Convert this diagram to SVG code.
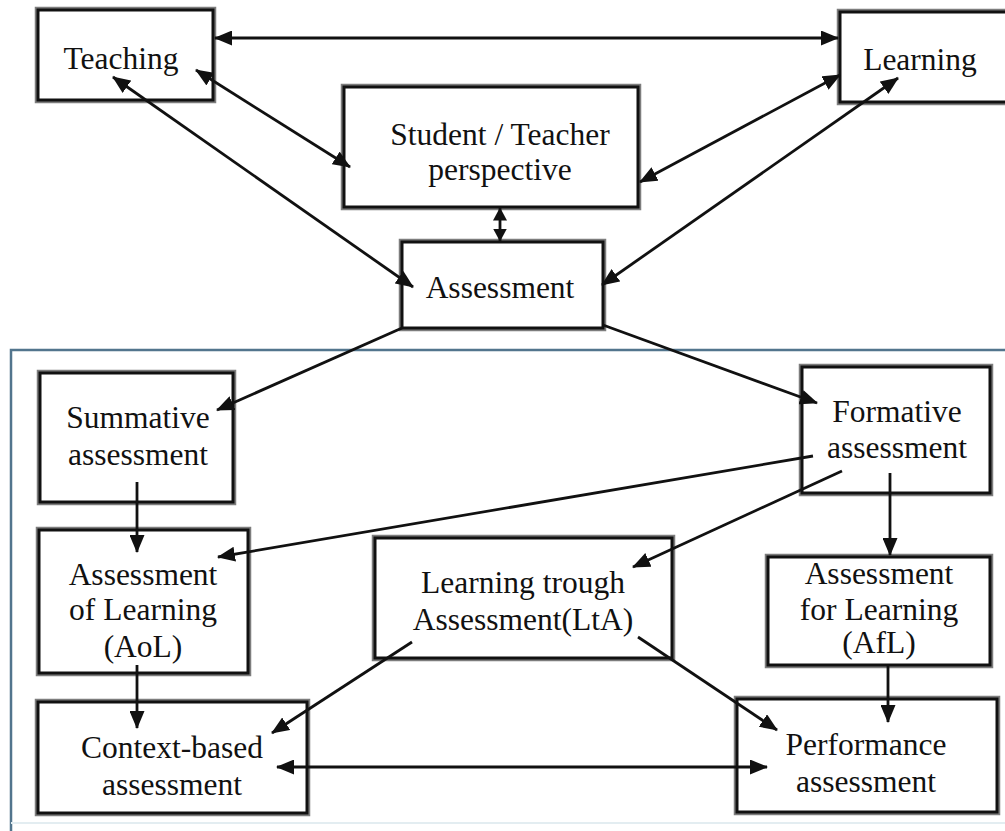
<svg xmlns="http://www.w3.org/2000/svg" width="1005" height="831" viewBox="0 0 1005 831">
  <style>
    .halo { fill: none; stroke: #7d7d7d; stroke-width: 6.5; }
    .box { fill: #ffffff; stroke: #111111; stroke-width: 3; }
    .lbl { font-size: 31.5px; fill: #111111; text-anchor: middle; }
    .edge { stroke: #111111; stroke-width: 2.8; fill: none; marker-end: url(#head); }
    .both { marker-start: url(#head); }
    .short { marker-start: url(#headS); marker-end: url(#headS); }
    .frame { fill: none; stroke: #52758d; stroke-width: 2.5; }
  </style>
  <defs>
    <marker id="head" viewBox="0 0 18 15" refX="17" refY="7.5" markerWidth="18" markerHeight="15" markerUnits="userSpaceOnUse" orient="auto-start-reverse">
      <path d="M0,0 L18,7.5 L0,15 z" fill="#111111"/>
    </marker>
    <marker id="headS" viewBox="0 0 13 14" refX="12.5" refY="7" markerWidth="13" markerHeight="14" markerUnits="userSpaceOnUse" orient="auto-start-reverse">
      <path d="M0,0 L13,7 L0,14 z" fill="#111111"/>
    </marker>
  </defs>

  <rect width="1005" height="831" fill="#ffffff"/>

  <!-- frame around the assessment types -->
  <polyline class="frame" points="11,831 11,350 1005,350"/>
  <line x1="11" y1="823" x2="1005" y2="823" stroke="#e3edf1" stroke-width="2"/>

  <!-- nodes -->
  <g font-family="Liberation Serif, Times New Roman, serif">
  <g id="teaching">
    <rect class="halo" x="38" y="10" width="175" height="90"/>
    <rect class="box" x="38" y="10" width="175" height="90"/>
    <text class="lbl" x="121" y="69">Teaching</text>
  </g>
  <g id="learning">
    <rect class="halo" x="840" y="12" width="175" height="90"/>
    <rect class="box" x="840" y="12" width="175" height="90"/>
    <text class="lbl" x="920" y="70">Learning</text>
  </g>
  <g id="perspective">
    <rect class="halo" x="344" y="87" width="294" height="120"/>
    <rect class="box" x="344" y="87" width="294" height="120"/>
    <text class="lbl" x="500" y="145">Student / Teacher</text>
    <text class="lbl" x="500" y="180">perspective</text>
  </g>
  <g id="assessment">
    <rect class="halo" x="402" y="242" width="201" height="86"/>
    <rect class="box" x="402" y="242" width="201" height="86"/>
    <text class="lbl" x="500" y="298">Assessment</text>
  </g>
  <g id="summative">
    <rect class="halo" x="40" y="373" width="193" height="129"/>
    <rect class="box" x="40" y="373" width="193" height="129"/>
    <text class="lbl" x="138" y="428">Summative</text>
    <text class="lbl" x="138" y="465">assessment</text>
  </g>
  <g id="formative">
    <rect class="halo" x="802" y="367" width="188" height="126"/>
    <rect class="box" x="802" y="367" width="188" height="126"/>
    <text class="lbl" x="897" y="422">Formative</text>
    <text class="lbl" x="897" y="458">assessment</text>
  </g>
  <g id="aol">
    <rect class="halo" x="39" y="530" width="209" height="143"/>
    <rect class="box" x="39" y="530" width="209" height="143"/>
    <text class="lbl" x="143" y="585">Assessment</text>
    <text class="lbl" x="143" y="620">of Learning</text>
    <text class="lbl" x="143" y="657">(AoL)</text>
  </g>
  <g id="lta">
    <rect class="halo" x="375" y="538" width="297" height="120"/>
    <rect class="box" x="375" y="538" width="297" height="120"/>
    <text class="lbl" x="523" y="593">Learning trough</text>
    <text class="lbl" x="523" y="630">Assessment(LtA)</text>
  </g>
  <g id="afl">
    <rect class="halo" x="768" y="557" width="222" height="108"/>
    <rect class="box" x="768" y="557" width="222" height="108"/>
    <text class="lbl" x="879" y="584">Assessment</text>
    <text class="lbl" x="879" y="620">for Learning</text>
    <text class="lbl" x="879" y="653">(AfL)</text>
  </g>
  <g id="context">
    <rect class="halo" x="38" y="702" width="269" height="111"/>
    <rect class="box" x="38" y="702" width="269" height="111"/>
    <text class="lbl" x="172" y="758">Context-based</text>
    <text class="lbl" x="172" y="795">assessment</text>
  </g>
  <g id="performance">
    <rect class="halo" x="737" y="699" width="260" height="113"/>
    <rect class="box" x="737" y="699" width="260" height="113"/>
    <text class="lbl" x="866" y="755">Performance</text>
    <text class="lbl" x="866" y="792">assessment</text>
  </g>
  </g>

  <!-- connectors -->
  <g id="connectors">
    <line class="edge both" x1="215" y1="38" x2="838" y2="38"/>
    <line class="edge both" x1="196" y1="70" x2="350" y2="167"/>
    <line class="edge both" x1="113" y1="77" x2="413" y2="287"/>
    <line class="edge both" x1="840" y1="75" x2="640" y2="182"/>
    <line class="edge both" x1="898" y1="78" x2="602" y2="285"/>
    <line class="edge short" x1="500" y1="208" x2="500" y2="241"/>
    <line class="edge" x1="402" y1="328" x2="217" y2="410"/>
    <line class="edge" x1="603" y1="325" x2="817" y2="403"/>
    <line class="edge" x1="137" y1="482" x2="137" y2="552"/>
    <line class="edge" x1="813" y1="456" x2="218" y2="557"/>
    <line class="edge" x1="842" y1="471" x2="633" y2="567"/>
    <line class="edge" x1="890" y1="473" x2="890" y2="555"/>
    <line class="edge" x1="137" y1="665" x2="137" y2="728"/>
    <line class="edge" x1="412" y1="642" x2="272" y2="733"/>
    <line class="edge" x1="638" y1="637" x2="777" y2="730"/>
    <line class="edge" x1="888" y1="665" x2="888" y2="722"/>
    <line class="edge both" x1="277" y1="767" x2="767" y2="767"/>
  </g>
</svg>
